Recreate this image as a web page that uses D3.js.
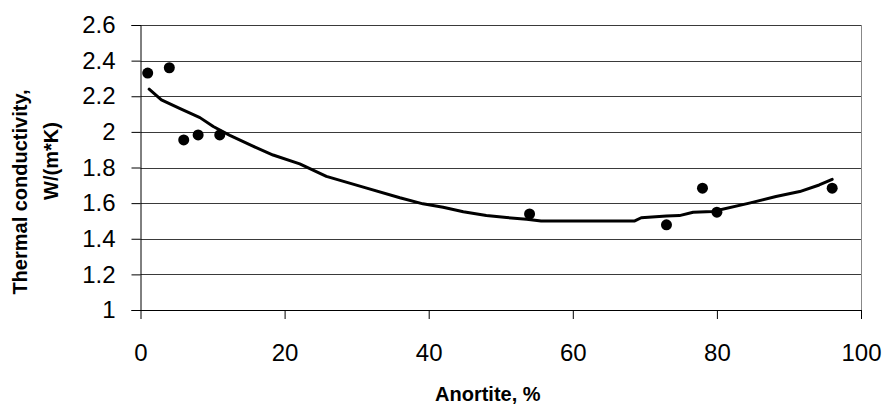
<!DOCTYPE html>
<html>
<head>
<meta charset="utf-8">
<script src="https://cdn.jsdelivr.net/npm/d3@7/dist/d3.min.js"></script>
<style>
  html, body { margin: 0; padding: 0; background: #fff; }
  svg { display: block; font-family: "Liberation Sans", Arial, sans-serif; }
</style>
</head>
<body>
<svg id="chart" width="886" height="405"></svg>
<script>
// Measured points
const anortite = [1, 4, 6, 8, 11, 54, 73, 78, 80, 96];
const conductivity = [2.33, 2.36, 1.955, 1.983, 1.983, 1.539, 1.478, 1.684, 1.549, 1.684];

// Trend line (as drawn)
const trendX = [1.2, 2.9, 5.5, 8.25, 10.1, 12.4, 15.6, 18.4, 22.1, 25.8, 31.4, 36, 39.2, 42, 44.8, 48, 50.8, 53.6, 55.6, 68.6, 69.5, 73, 74.8, 76.7, 79.4, 84.5, 88.2, 91.5, 94.2, 96];
const trendY = [2.24, 2.18, 2.13, 2.08, 2.03, 1.98, 1.92, 1.87, 1.82, 1.75, 1.684, 1.63, 1.596, 1.577, 1.552, 1.53, 1.519, 1.51, 1.50, 1.50, 1.518, 1.528, 1.53, 1.549, 1.553, 1.60, 1.637, 1.665, 1.702, 1.734];

// Axes
const xTicks = [0, 20, 40, 60, 80, 100];
const yTicks = [1, 1.2, 1.4, 1.6, 1.8, 2, 2.2, 2.4, 2.6];
const xTitle = "Anortite, %";
const yTitleLines = ["Thermal conductivity,", "W/(m*K)"];

const svg = d3.select("#chart");
const pLeft = 140.5, pRight = 861, pTop = 25, pBottom = 310;
const x = d3.scaleLinear().domain([0, 100]).range([pLeft, pRight]);
const y = d3.scaleLinear().domain([1, 2.6]).range([pBottom, pTop]);

// Gridlines
svg.append("g").selectAll("line")
  .data(yTicks.filter(d => d !== 1))
  .join("line")
  .attr("x1", pLeft).attr("x2", pRight)
  .attr("y1", d => Math.round(y(d)) + 0.5).attr("y2", d => Math.round(y(d)) + 0.5)
  .attr("stroke", "#3a3a3a").attr("stroke-width", 1);

// Right border
svg.append("line")
  .attr("x1", pRight + 0.5).attr("x2", pRight + 0.5)
  .attr("y1", pTop).attr("y2", pBottom)
  .attr("stroke", "#888").attr("stroke-width", 1);

// Y axis
const yAxis = d3.axisLeft(y).tickValues(yTicks).tickSize(9).tickPadding(16)
  .tickFormat(d => String(+d.toFixed(1)));
const gy = svg.append("g").attr("transform", `translate(${pLeft},0)`).call(yAxis);
gy.select(".domain").attr("stroke", "#000");
gy.selectAll(".tick line").attr("stroke", "#000");
gy.selectAll("text").attr("font-size", 24).attr("fill", "#000")
  .attr("font-family", "'Liberation Sans', Arial, sans-serif");

// X axis
const xAxis = d3.axisBottom(x).tickValues(xTicks).tickSize(9).tickPadding(25).tickSizeOuter(0);
const gx = svg.append("g").attr("transform", `translate(0,${pBottom})`).call(xAxis);
gx.select(".domain").attr("stroke", "#000");
gx.selectAll(".tick line").attr("stroke", "#000");
gx.selectAll("text").attr("font-size", 24).attr("fill", "#000")
  .attr("font-family", "'Liberation Sans', Arial, sans-serif");

// Trend line
const line = d3.line().x(d => x(d[0])).y(d => y(d[1]));
svg.append("path")
  .datum(trendX.map((v, i) => [v, trendY[i]]))
  .attr("d", line)
  .attr("fill", "none").attr("stroke", "#000").attr("stroke-width", 3)
  .attr("stroke-linejoin", "round").attr("stroke-linecap", "round");

// Points
svg.append("g").selectAll("circle")
  .data(anortite.map((v, i) => [v, conductivity[i]]))
  .join("circle")
  .attr("cx", d => x(d[0])).attr("cy", d => y(d[1]))
  .attr("r", 5.5).attr("fill", "#000");

// X title
svg.append("text")
  .attr("x", 435).attr("y", 401)
  .attr("font-size", 20).attr("font-weight", "bold")
  .text(xTitle);

// Y title (two rotated lines)
svg.append("text")
  .attr("transform", "translate(27,192) rotate(-90)")
  .attr("text-anchor", "middle")
  .attr("font-size", 20).attr("font-weight", "bold")
  .text(yTitleLines[0]);
svg.append("text")
  .attr("transform", "translate(58,161) rotate(-90)")
  .attr("text-anchor", "middle")
  .attr("font-size", 20).attr("font-weight", "bold")
  .text(yTitleLines[1]);
</script>
</body>
</html>
